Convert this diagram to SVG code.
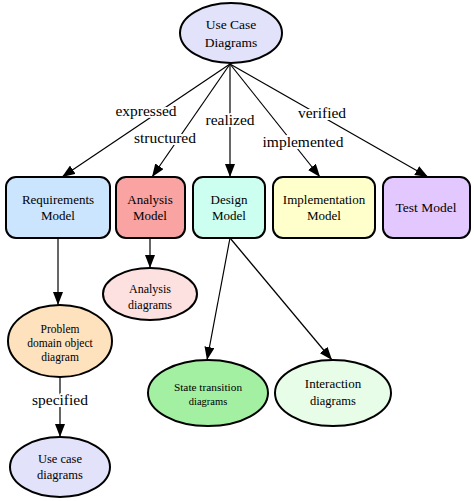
<svg xmlns="http://www.w3.org/2000/svg" width="474" height="501" viewBox="0 0 474 501">
<defs>
<marker id="ah" markerUnits="userSpaceOnUse" markerWidth="13" markerHeight="10" viewBox="0 0 13 10" refX="13" refY="5" orient="auto">
<path d="M0,0 L13,5 L0,10 Z" fill="#000"/>
</marker>
</defs>
<style>
text{font-family:"Liberation Serif","Times New Roman",serif;fill:#000;text-anchor:middle}
.n{stroke:#000;stroke-width:2}
.e{stroke:#000;stroke-width:1.2;fill:none;marker-end:url(#ah)}
.lbl{font-size:15.5px;stroke:#fff;stroke-width:4px;paint-order:stroke;stroke-linejoin:round}
.t{font-size:13.5px}
.b{font-size:13px}
.s{font-size:12px}
.xs{font-size:11.5px}
</style>
<rect width="474" height="501" fill="#fff"/>
<g id="edges">
<line class="e" x1="230" y1="64" x2="62" y2="177"/>
<line class="e" x1="230" y1="64" x2="152" y2="177"/>
<line class="e" x1="230" y1="64" x2="230" y2="177"/>
<line class="e" x1="230" y1="64" x2="320" y2="177"/>
<line class="e" x1="230" y1="64" x2="428" y2="177"/>
<line class="e" x1="58" y1="238" x2="58" y2="305"/>
<line class="e" x1="150" y1="238" x2="150" y2="268"/>
<line class="e" x1="230" y1="238" x2="207" y2="360"/>
<line class="e" x1="230" y1="238" x2="332" y2="360"/>
<line class="e" x1="60" y1="377" x2="60" y2="437"/>
<text class="lbl" x="146" y="116">expressed</text>
<text class="lbl" x="165" y="143">structured</text>
<text class="lbl" x="230" y="125">realized</text>
<text class="lbl" x="303" y="147">implemented</text>
<text class="lbl" x="322" y="118">verified</text>
<text class="lbl" x="60" y="405">specified</text>
</g>
<g id="usecase">
<ellipse class="n" cx="231" cy="33" rx="51" ry="30" fill="#e2e2fa"/>
<text class="t" x="231" y="29">Use Case</text>
<text class="t" x="231" y="47">Diagrams</text>
</g>
<g id="requirements">
<rect class="n" x="6" y="177" width="104" height="61" rx="10" fill="#cce5ff"/>
<text class="b" x="58" y="204">Requirements</text>
<text class="b" x="58" y="220">Model</text>
</g>
<g id="analysis">
<rect class="n" x="116" y="177" width="69" height="61" rx="10" fill="#f9a3a3"/>
<text class="b" x="150" y="204">Analysis</text>
<text class="b" x="150" y="220">Model</text>
</g>
<g id="design">
<rect class="n" x="193" y="177" width="72" height="61" rx="10" fill="#ccfff0"/>
<text class="b" x="229" y="204">Design</text>
<text class="b" x="229" y="220">Model</text>
</g>
<g id="implementation">
<rect class="n" x="273" y="177" width="102" height="61" rx="10" fill="#ffffcc"/>
<text class="b" x="324" y="204">Implementation</text>
<text class="b" x="324" y="220">Model</text>
</g>
<g id="test">
<rect class="n" x="383" y="177" width="87" height="61" rx="10" fill="#e3c8ff"/>
<text class="t" x="426" y="212">Test Model</text>
</g>
<g id="analysisdiagrams">
<ellipse class="n" cx="150" cy="294" rx="47" ry="26" fill="#fde0e0"/>
<text class="s" x="150" y="293">Analysis</text>
<text class="s" x="150" y="309">diagrams</text>
</g>
<g id="problemdomain">
<ellipse class="n" cx="60" cy="341" rx="52" ry="36" fill="#fde2bd"/>
<text class="xs" x="60" y="333">Problem</text>
<text class="xs" x="60" y="347">domain object</text>
<text class="xs" x="60" y="361">diagram</text>
</g>
<g id="usecasediagrams">
<ellipse class="n" cx="60" cy="467" rx="50" ry="30" fill="#e2e2fa"/>
<text class="s" x="60" y="463" style="font-size:12.5px">Use case</text>
<text class="s" x="60" y="479" style="font-size:12.5px">diagrams</text>
</g>
<g id="statetransition">
<ellipse class="n" cx="208" cy="393" rx="60" ry="33" fill="#a3f0a3"/>
<text x="208" y="391" style="font-size:11.3px">State transition</text>
<text x="208" y="405" style="font-size:10.5px">diagrams</text>
</g>
<g id="interaction">
<ellipse class="n" cx="333" cy="393" rx="58" ry="33" fill="#e8fde8"/>
<text class="b" x="333" y="388">Interaction</text>
<text class="s" x="333" y="405" style="font-size:12.5px">diagrams</text>
</g>
</svg>
